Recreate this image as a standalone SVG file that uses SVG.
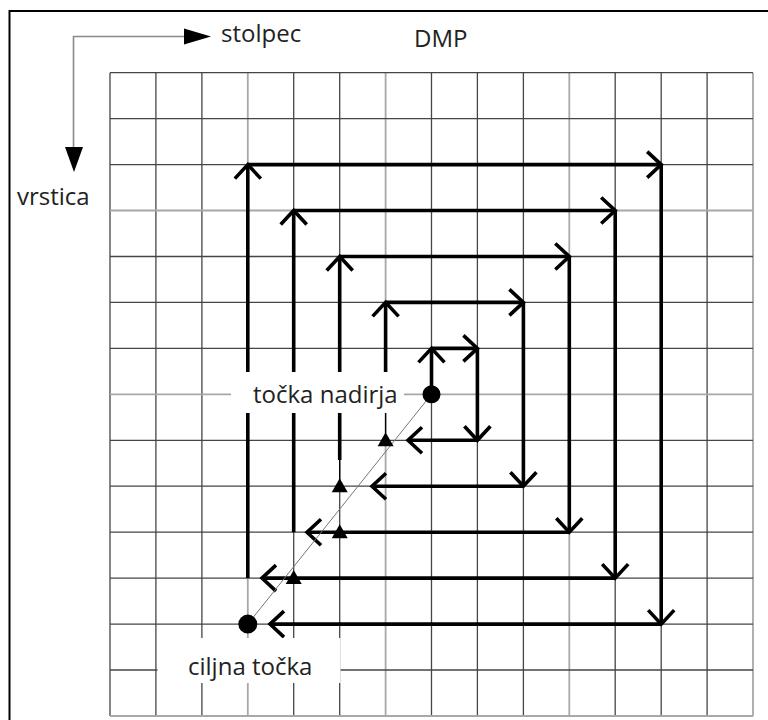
<svg xmlns="http://www.w3.org/2000/svg" width="768" height="720" viewBox="0 0 768 720">
  <style>
    .g { stroke: #454545; stroke-width: 1.3; fill: none; }
    .gl { stroke: #a8a8a8; stroke-width: 1.8; fill: none; }
    .sp { stroke: #000; stroke-width: 3.6; fill: none; }
    .spa { stroke: #000; stroke-width: 3.6; fill: none; marker-end: url(#chev); }
    .thin { stroke: #000; stroke-width: 1.3; fill: none; }
    .txt { font-family: "Open Sans", "Liberation Sans", sans-serif; font-size: 24px; fill: #222; }
    .axis { stroke: #8a8a8a; stroke-width: 1.6; fill: none; }
    .tri { fill: #000; }
  </style>
  <defs>
    <marker id="chev" markerUnits="userSpaceOnUse" viewBox="-18 -17 22 34" refX="0" refY="0" markerWidth="22" markerHeight="34" orient="auto">
      <path d="M-14,-13 L0,0 L-14,13" fill="none" stroke="#000" stroke-width="3.6" stroke-linejoin="miter"/>
    </marker>
  </defs>

  <rect width="768" height="720" fill="#fff"/>

  <g id="frame">
    <path d="M9.5,720 L9.5,11 L768,11" fill="none" stroke="#000" stroke-width="2"/>
  </g>

  <g id="grid">
    <!-- vertical lines -->
    <line class="g" x1="110" y1="72.7" x2="110" y2="716"/>
    <line class="g" x1="155.9" y1="72.7" x2="155.9" y2="716"/>
    <line class="g" x1="201.9" y1="72.7" x2="201.9" y2="716"/>
    <line class="gl" x1="247.8" y1="72.7" x2="247.8" y2="716"/>
    <line class="g" x1="293.7" y1="72.7" x2="293.7" y2="716"/>
    <line class="g" x1="339.7" y1="72.7" x2="339.7" y2="716"/>
    <line class="gl" x1="385.6" y1="72.7" x2="385.6" y2="716"/>
    <line class="g" x1="431.5" y1="72.7" x2="431.5" y2="716"/>
    <line class="g" x1="477.4" y1="72.7" x2="477.4" y2="716"/>
    <line class="g" x1="523.4" y1="72.7" x2="523.4" y2="716"/>
    <line class="gl" x1="569.3" y1="72.7" x2="569.3" y2="716"/>
    <line class="g" x1="615.2" y1="72.7" x2="615.2" y2="716"/>
    <line class="g" x1="661.2" y1="72.7" x2="661.2" y2="716"/>
    <line class="g" x1="707.1" y1="72.7" x2="707.1" y2="716"/>
    <line class="gl" x1="753" y1="72.7" x2="753" y2="716"/>
    <!-- horizontal lines -->
    <line class="g" x1="110" y1="72.7" x2="753" y2="72.7"/>
    <line class="g" x1="110" y1="118.6" x2="753" y2="118.6"/>
    <line class="g" x1="110" y1="164.6" x2="753" y2="164.6"/>
    <line class="gl" x1="110" y1="210.5" x2="753" y2="210.5"/>
    <line class="g" x1="110" y1="256.5" x2="753" y2="256.5"/>
    <line class="g" x1="110" y1="302.4" x2="753" y2="302.4"/>
    <line class="g" x1="110" y1="348.4" x2="753" y2="348.4"/>
    <line class="gl" x1="110" y1="394.3" x2="753" y2="394.3"/>
    <line class="g" x1="110" y1="440.3" x2="753" y2="440.3"/>
    <line class="g" x1="110" y1="486.2" x2="753" y2="486.2"/>
    <line class="g" x1="110" y1="532.2" x2="753" y2="532.2"/>
    <line class="g" x1="110" y1="578.1" x2="753" y2="578.1"/>
    <line class="g" x1="110" y1="624.1" x2="753" y2="624.1"/>
    <line class="g" x1="110" y1="670" x2="753" y2="670"/>
    <line class="gl" x1="110" y1="716" x2="753" y2="716"/>
  </g>

  <g id="axes">
    <path class="axis" d="M73.5,36.5 L186,36.5 M73.5,36 L73.5,149"/>
    <polygon fill="#000" points="184,28.5 211,36.5 184,44.5"/>
    <polygon fill="#000" points="65,147 83,147 74,172"/>
    <text class="txt" x="221" y="42">stolpec</text>
    <text class="txt" x="17" y="205">vrstica</text>
    <text class="txt" x="414" y="47">DMP</text>
  </g>

  <g id="connectors">
    <!-- loop 1 -->
    <line class="spa" x1="431.5" y1="394.3" x2="431.5" y2="348.4"/>
    <line class="spa" x1="431.5" y1="348.4" x2="477.4" y2="348.4"/>
    <line class="spa" x1="477.4" y1="348.4" x2="477.4" y2="440.3"/>
    <line class="spa" x1="477.4" y1="440.3" x2="408" y2="440.3"/>
    <!-- loop 2 -->
    <line class="thin" x1="385.6" y1="413" x2="385.6" y2="433"/>
    <line class="spa" x1="385.6" y1="413" x2="385.6" y2="302.4"/>
    <line class="spa" x1="385.6" y1="302.4" x2="523.4" y2="302.4"/>
    <line class="spa" x1="523.4" y1="302.4" x2="523.4" y2="486.2"/>
    <line class="spa" x1="523.4" y1="486.2" x2="372" y2="486.2"/>
    <!-- loop 3 -->
    <line class="thin" x1="339.7" y1="460" x2="339.7" y2="480"/>
    <line class="spa" x1="339.7" y1="460" x2="339.7" y2="256.5"/>
    <line class="spa" x1="339.7" y1="256.5" x2="569.3" y2="256.5"/>
    <line class="spa" x1="569.3" y1="256.5" x2="569.3" y2="532.2"/>
    <line class="spa" x1="569.3" y1="532.2" x2="307" y2="532.2"/>
    <!-- loop 4 -->
    <line class="spa" x1="293.7" y1="532.2" x2="293.7" y2="210.5"/>
    <line class="spa" x1="293.7" y1="210.5" x2="615.2" y2="210.5"/>
    <line class="spa" x1="615.2" y1="210.5" x2="615.2" y2="578.1"/>
    <line class="spa" x1="615.2" y1="578.1" x2="262" y2="578.1"/>
    <!-- loop 5 -->
    <line class="spa" x1="247.8" y1="578.1" x2="247.8" y2="164.6"/>
    <line class="spa" x1="247.8" y1="164.6" x2="661.2" y2="164.6"/>
    <line class="spa" x1="661.2" y1="164.6" x2="661.2" y2="624.1"/>
    <line class="spa" x1="661.2" y1="624.1" x2="270" y2="624.1"/>
    <!-- line of sight -->
    <line x1="431.5" y1="394.3" x2="247.8" y2="624.1" stroke="#777" stroke-width="1"/>
  </g>

  <g id="cells">
    <polygon class="tri" points="385.6,432.3 377.6,446.3 393.6,446.3"/>
    <polygon class="tri" points="339.7,478.2 331.7,492.2 347.7,492.2"/>
    <polygon class="tri" points="339.7,524.2 331.7,538.2 347.7,538.2"/>
    <polygon class="tri" points="293.7,570.1 285.7,584.1 301.7,584.1"/>
  </g>

  <g id="nadir">
    <rect x="231" y="372" width="173" height="41" fill="#fff"/>
    <text class="txt" x="253" y="403">točka nadirja</text>
    <circle cx="431.5" cy="394.3" r="9" fill="#000"/>
  </g>

  <g id="target">
    <rect x="157.5" y="638" width="183" height="45" fill="#fff"/>
    <text class="txt" x="188" y="675">ciljna točka</text>
    <circle cx="247.8" cy="624.1" r="9.5" fill="#000"/>
  </g>
</svg>
